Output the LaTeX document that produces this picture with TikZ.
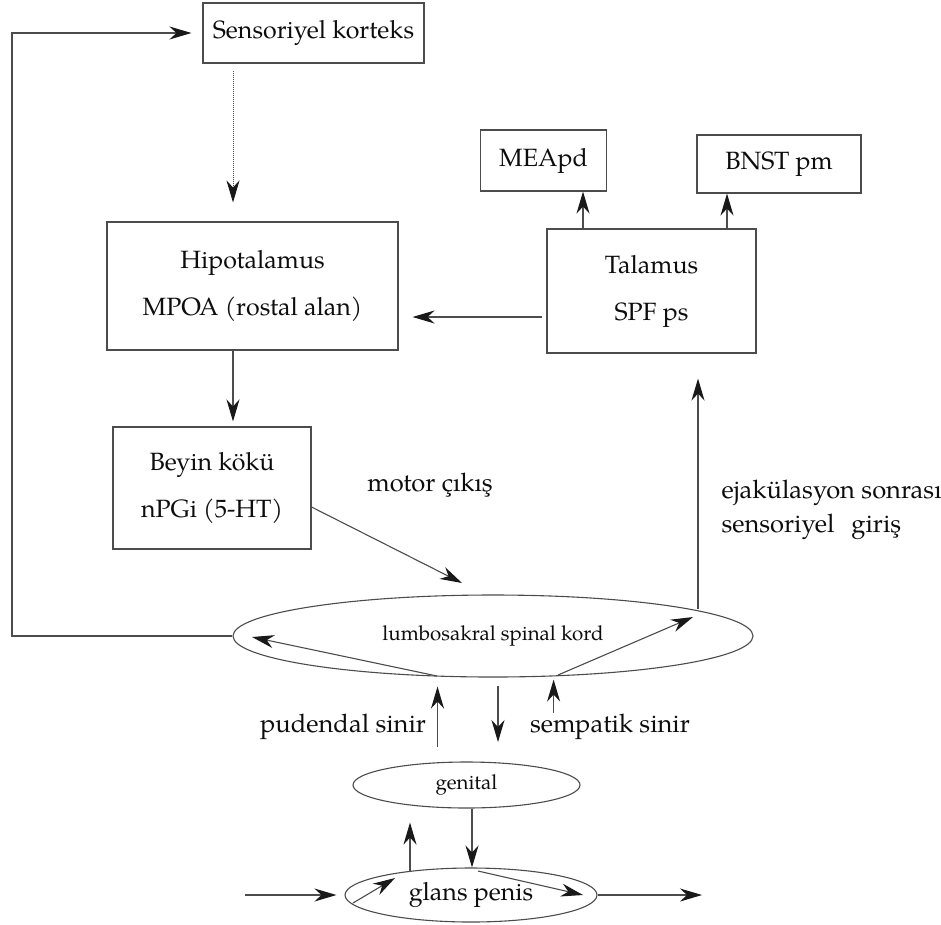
\documentclass[tikz,border=0pt]{standalone}
\usepackage{fontspec}
\setmainfont{TeX Gyre Pagella}
\usepackage{tikz}
\usetikzlibrary{shapes,arrows.meta,positioning,calc}

\begin{document}
\begin{tikzpicture}[
    x=1pt, y=-1pt,
    box/.style={draw=black!70, rectangle, line width=1.1pt, inner sep=0pt, align=center, text=black!95, font=\fontsize{25}{47}\selectfont},
    oval/.style={draw=black!70, ellipse, line width=1.1pt, inner sep=0pt, text=black!95},
    note/.style={align=left, text=black!95, font=\fontsize{25.5}{34}\selectfont},
    arrow/.style={-{Stealth[length=22pt, width=13pt, inset=7pt, color=black!90]}, line width=1.1pt, draw=black!70}
]
    \useasboundingbox (0,0) rectangle (941,924);

    % Nodes
    \node[box, minimum width=221, minimum height=60] (korteks) at (313.5,33) {Sensoriyel korteks};
    \node[box, minimum width=291, minimum height=128] (hipo) at (252.5,286) {Hipotalamus \\ MPOA (rostal alan)};
    \node[box, minimum width=198, minimum height=122] (beyin) at (212,488) {Beyin kökü \\ nPGi (5-HT)};
    \node[box, minimum width=209, minimum height=124] (talamus) at (651.5,291) {Talamus \\ SPF ps};
    \node[box, minimum width=126, minimum height=61] (meapd) at (543.5,160.5) {MEApd};
    \node[box, minimum width=164, minimum height=58] (bnst) at (779,164) {BNST pm};

    % Ovals
    \node[oval, minimum width=520, minimum height=82, font=\fontsize{20.5}{24}\selectfont] (lumbo) at (493,636) {lumbosakral spinal kord};
    \node[oval, minimum width=227, minimum height=46, font=\fontsize{20.5}{24}\selectfont] (genital) at (466.5,785) {genital};
    \node[oval, minimum width=252, minimum height=54, font=\fontsize{25}{28}\selectfont] (glans) at (471,895) {glans penis};

    % Labels
    \node[note] (motor) at (430,485) {motor çıkış};
    \node[note, anchor=west] (ejak) at (718,510) {ejakülasyon sonrası \\ sensoriyel\hspace{17pt}giriş};
    \node[note] (pudendal) at (343,727) {pudendal sinir};
    \node[note] (sempatik) at (610,727) {sempatik sinir};

    % Free ends
    \coordinate (loop) at (12,33);
    \coordinate (motortip) at (462,583);
    \coordinate (asc) at (698,609);
    \coordinate (pudin) at (437.5,747);
    \coordinate (down) at (498,742);
    \coordinate (sempin) at (553.6,713);
    \coordinate (lumL) at (437,676);
    \coordinate (lumLtip) at (252,637);
    \coordinate (lumR) at (558,675);
    \coordinate (lumRtip) at (693,617);
    \coordinate (gup) at (410,871);
    \coordinate (glansL) at (353,903);
    \coordinate (glansLtip) at (395,878);
    \coordinate (glansR) at (478,871);
    \coordinate (glansRtip) at (583,895);
    \coordinate (inflow) at (245,895);
    \coordinate (outflow) at (702,895);

    % Arrows
    \draw[arrow, shorten >=11pt] (lumbo.west) -| (loop) -- (korteks.west);
    \draw[arrow, dash pattern=on 1pt off 1pt, line width=0.9pt, shorten <=7pt, shorten >=19pt] ([xshift=-80.5pt]korteks.south) -- ([xshift=-19.5pt]hipo.north);
    \draw[arrow, shorten >=5pt] ([xshift=-19.5pt]hipo.south) -- ([xshift=21pt]beyin.north);
    \draw[arrow] ([yshift=-19pt]beyin.east) -- (motortip);
    \draw[arrow, shorten <=4pt, shorten >=14pt] ([yshift=-26pt]talamus.west) -- ([yshift=-26pt]talamus.west -| hipo.east);
    \draw[arrow] ([xshift=-68.5pt]talamus.north) -- ([xshift=-68.5pt]talamus.north |- meapd.south);
    \draw[arrow] ([xshift=75.5pt]talamus.north) -- ([xshift=75.5pt]talamus.north |- bnst.south);
    \draw[arrow, shorten >=25pt] (asc) -- (asc |- talamus.south);

    \draw[arrow, shorten >=9pt] (pudin) -- (pudin |- lumbo.south);
    \draw[arrow, shorten <=8pt] (down |- lumbo.south) -- (down);
    \draw[arrow, shorten >=2pt] (sempin) -- (sempin |- lumbo.south);
    \draw[arrow] (lumL) -- (lumLtip);
    \draw[arrow] (lumR) -- (lumRtip);

    \draw[arrow, shorten >=14pt] (gup) -- (gup |- genital.south);
    \draw[arrow] ([xshift=5.5pt]genital.south) -- ([xshift=1pt]glans.north);
    \draw[arrow] (glansL) -- (glansLtip);
    \draw[arrow] (glansR) -- (glansRtip);
    \draw[arrow, shorten >=8pt] (inflow) -- (glans.west);
    \draw[arrow] (glans.east) -- (outflow);

\end{tikzpicture}
\end{document}
